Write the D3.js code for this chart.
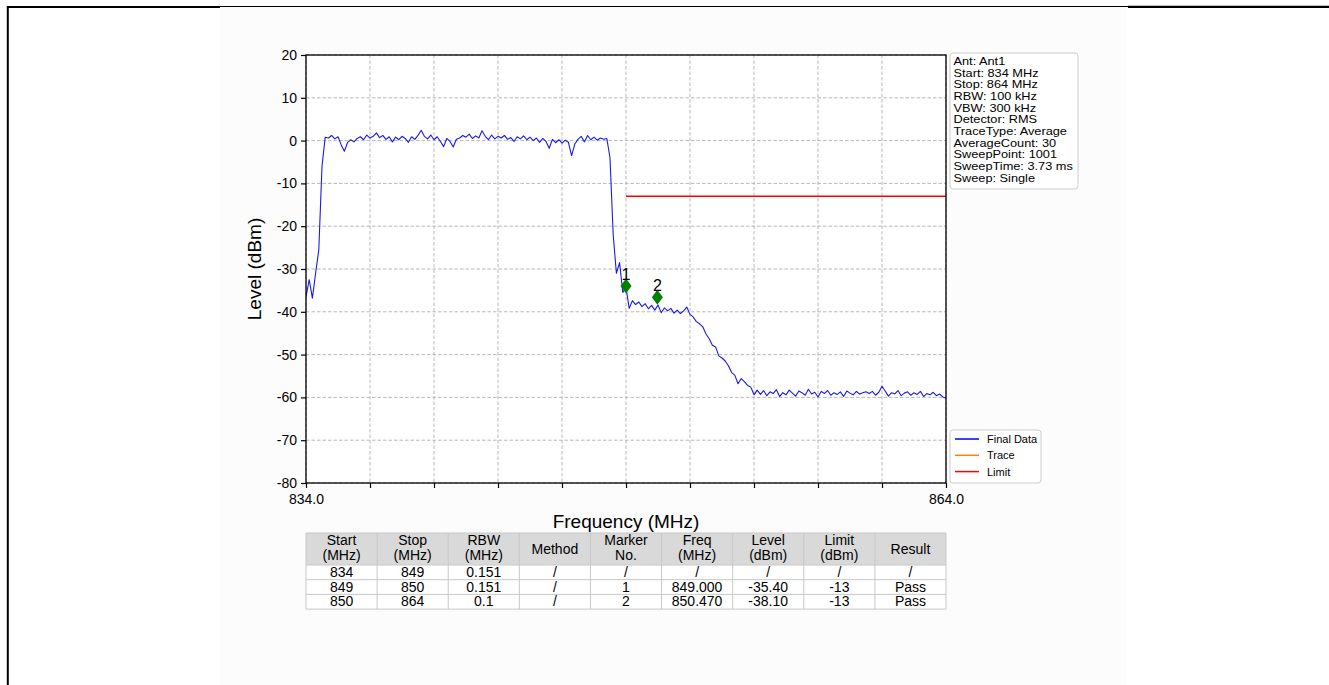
<!DOCTYPE html>
<html><head><meta charset="utf-8">
<script src="https://cdn.jsdelivr.net/npm/d3@7"></script>
<style>
body{margin:0;background:#fff;}
svg{display:block;font-family:"Liberation Sans",Arial,Helvetica,sans-serif;}
</style>
</head><body><svg id="c" width="1329" height="685"></svg>
<script>
// ---------- data ----------
const sweepStart = 834, sweepStop = 864, sweepStep = 0.15;
const traceLevels = [
 -36.5,-32.5,-36.8,-31,-25.5,-6,0.8,
 0.6,1.2,0.4,0.9,-1.0,-2.5,-0.4,0.2,-0.3,0.5,0.9,0.2,1.3,0.6,1.0,1.8,0.7,1.2,0.3,0.9,-0.3,0.8,0.2,1.0,0.5,-0.4,0.9,0.3,1.2,2.4,1.0,0.4,1.3,0.2,0.9,-0.2,-1.4,0.5,-0.2,-1.5,0.3,
 0.6,1.2,0.8,1.5,0.5,1.1,0.6,2.3,1.0,0.2,1.3,0.4,1.0,0.6,1.2,0.3,0.7,-0.2,0.9,0.4,1.1,0.2,0.8,0.0,0.6,-0.4,0.5,-0.2,-1.8,0.3,-0.5,0.2,-0.6,0.1,-0.4,-3.5,-0.8,0.3,1.0,-0.3,1.2,0.2,0.8,0.1,0.6,0.3,0.5,
 -4,-22,-31,-28.5,-35.5,-34.3,-39.2,-37.4,-38.3,-37.7,-38.8,-38.1,-39.3,-38.5,-39.6,-38.4,-40.2,-39.1,-39.8,-39.2,-40.3,-39.6,-40.4,-39.8,-38.9,-40.6,-41.2,-42.3,-42.8,-43.5,-45.2,-46.3,-47.8,-48.2,-50.3,-50.8,-51.5,-52.6,-54.2,-54.8,-56.8,-55.6,-56.3,-57.2,-57.6,-59.4,-58.3,
 -59.3,-58.4,-59.6,-58.7,-59.1,-58.2,-59.8,-58.9,-59.4,-58.3,
 -59.0,-59.7,-58.5,-58.9,-59.5,-58.1,-59.2,-58.8,-59.9,-58.6,
 -59.1,-58.4,-59.5,-58.9,-59.3,-58.7,-59.8,-58.5,-59.0,-59.4,
 -58.6,-59.2,-58.9,-58.7,-59.1,-58.6,-59.5,-58.8,-57.4,-58.5,
 -59.7,-58.9,-59.2,-58.4,-59.6,-59.0,-58.7,-59.5,-58.9,-59.3,
 -58.6,-59.8,-59.1,-59.4,-58.8,-59.6,-59.2,-59.9,-60.2
];
const limitFreq = [849, 864];
const limitLevel = [-13, -13];
const markerNo = ["1", "2"];
const markerFreq = [849.0, 850.47];
const markerLevel = [-34.0, -36.6];
const yTicks = [20, 10, 0, -10, -20, -30, -40, -50, -60, -70, -80];
const yTickLabels = ["20", "10", "0", "-10", "-20", "-30", "-40", "-50", "-60", "-70", "-80"];
const xTicks = [834, 837, 840, 843, 846, 849, 852, 855, 858, 861, 864];
const xTickLabels = ["834.0", "", "", "", "", "", "", "", "", "", "864.0"];
const infoLines = ["Ant: Ant1", "Start: 834 MHz", "Stop: 864 MHz", "RBW: 100 kHz", "VBW: 300 kHz",
  "Detector: RMS", "TraceType: Average", "AverageCount: 30", "SweepPoint: 1001", "SweepTime: 3.73 ms", "Sweep: Single"];
const legendNames = ["Final Data", "Trace", "Limit"];
const legendColors = ["#0000ee", "#ff7f0e", "#ff0000"];
const tableHeader = [["Start", "(MHz)"], ["Stop", "(MHz)"], ["RBW", "(MHz)"], ["Method"], ["Marker", "No."],
  ["Freq", "(MHz)"], ["Level", "(dBm)"], ["Limit", "(dBm)"], ["Result"]];
const tableRows = [
  ["834", "849", "0.151", "/", "/", "/", "/", "/", "/"],
  ["849", "850", "0.151", "/", "1", "849.000", "-35.40", "-13", "Pass"],
  ["850", "864", "0.1", "/", "2", "850.470", "-38.10", "-13", "Pass"]
];

// ---------- drawing ----------
const svg = d3.select("#c");
// page frame
svg.append("rect").attr("x", 220).attr("y", 7).attr("width", 907).attr("height", 678).attr("fill", "#fcfcfc");
svg.append("line").attr("x1", 7).attr("x2", 220).attr("y1", 7).attr("y2", 7).attr("stroke", "#000").attr("stroke-width", 2);
svg.append("line").attr("x1", 220).attr("x2", 1128).attr("y1", 6.5).attr("y2", 6.5).attr("stroke", "#000").attr("stroke-width", 1);
svg.append("line").attr("x1", 1128).attr("x2", 1329).attr("y1", 6.8).attr("y2", 6.8).attr("stroke", "#000").attr("stroke-width", 2.3);
svg.append("line").attr("x1", 7.8).attr("x2", 7.8).attr("y1", 6).attr("y2", 685).attr("stroke", "#000").attr("stroke-width", 2);

const L = 306, R = 946, T = 55, B = 483;
const x = d3.scaleLinear().domain([sweepStart, sweepStop]).range([L, R]);
const y = d3.scaleLinear().domain([-80, 20]).range([B, T]);

svg.append("rect").attr("x", L).attr("y", T).attr("width", R - L).attr("height", B - T).attr("fill", "#fff");

// grid
const grid = svg.append("g").attr("stroke", "#b0b0b0").attr("stroke-width", 0.9).attr("stroke-dasharray", "3.5,2");
grid.selectAll(".gy").data(yTicks).join("line")
  .attr("x1", L).attr("x2", R).attr("y1", d => y(d)).attr("y2", d => y(d));
grid.selectAll(".gx").data(xTicks).join("line")
  .attr("y1", T).attr("y2", B).attr("x1", d => x(d)).attr("x2", d => x(d));

// trace
const traceData = traceLevels.map((v, i) => [sweepStart + i * sweepStep, v]);
svg.append("clipPath").attr("id", "pc").append("rect").attr("x", L).attr("y", T).attr("width", R - L).attr("height", B - T);
svg.append("path").datum(traceData).attr("clip-path", "url(#pc)")
  .attr("fill", "none").attr("stroke", "#1a1ae6").attr("stroke-width", 1.1).attr("stroke-linejoin", "round")
  .attr("d", d3.line().x(d => x(d[0])).y(d => y(d[1])));

// limit
svg.append("path").datum(limitFreq.map((f, i) => [f, limitLevel[i]]))
  .attr("fill", "none").attr("stroke", "#ff0000").attr("stroke-width", 1.4)
  .attr("d", d3.line().x(d => x(d[0])).y(d => y(d[1])));

// markers
const mk = svg.append("g");
markerNo.forEach((n, i) => {
  const cx = x(markerFreq[i]), cy = y(markerLevel[i]);
  mk.append("path").attr("d", `M${cx},${cy - 7.5}L${cx + 5.5},${cy}L${cx},${cy + 7.5}L${cx - 5.5},${cy}Z`).attr("fill", "#008000");
  mk.append("text").attr("x", cx).attr("y", cy - 6).attr("text-anchor", "middle").attr("font-size", 16).attr("fill", "#000").text(n);
});

// axes
const ax = svg.append("g").attr("transform", `translate(${L},0)`)
  .call(d3.axisLeft(y).tickValues(yTicks).tickSize(5).tickPadding(4).tickFormat((d, i) => yTickLabels[i]));
const bx = svg.append("g").attr("transform", `translate(0,${B})`)
  .call(d3.axisBottom(x).tickValues(xTicks).tickSize(5).tickPadding(6).tickFormat((d, i) => xTickLabels[i]));
[ax, bx].forEach(g => {
  g.select(".domain").remove();
  g.selectAll(".tick line").attr("stroke", "#000").attr("stroke-width", 1.2);
  g.selectAll(".tick text").attr("font-size", 14).attr("font-family", "Liberation Sans, Arial, sans-serif").attr("fill", "#000");
});
svg.append("rect").attr("x", L).attr("y", T).attr("width", R - L).attr("height", B - T)
  .attr("fill", "none").attr("stroke", "#000").attr("stroke-width", 1.3);

svg.append("text").attr("transform", `translate(261,${(T + B) / 2}) rotate(-90)`).attr("text-anchor", "middle")
  .attr("font-size", 19).text("Level (dBm)");
svg.append("text").attr("x", (L + R) / 2).attr("y", 528).attr("text-anchor", "middle").attr("font-size", 19).text("Frequency (MHz)");

// info box
svg.append("rect").attr("x", 950).attr("y", 53).attr("width", 128).attr("height", 136).attr("rx", 3)
  .attr("fill", "#fff").attr("stroke", "#cccccc").attr("stroke-width", 1);
svg.append("g").attr("transform", "translate(953.5,0) scale(1.1,1)")
  .selectAll("text").data(infoLines).join("text")
  .attr("x", 0).attr("y", (d, i) => 65 + i * 11.67).attr("font-size", 11.6).attr("fill", "#000").text(d => d);

// legend
svg.append("rect").attr("x", 950).attr("y", 430).attr("width", 91).attr("height", 53).attr("rx", 3)
  .attr("fill", "#fff").attr("stroke", "#cccccc").attr("stroke-width", 1);
const lg = svg.append("g").selectAll("g").data(legendNames).join("g")
  .attr("transform", (d, i) => `translate(0,${439 + i * 16.3})`);
lg.append("line").attr("x1", 955).attr("x2", 979).attr("stroke", (d, i) => legendColors[i]).attr("stroke-width", 1.5);
lg.append("text").attr("x", 987).attr("y", 4).attr("font-size", 11).text(d => d);

// table
const colW = (R - L) / tableHeader.length;
const tb = svg.append("g");
const hTop = 533, hH = 32, rH = 14.7;
tb.append("rect").attr("x", L).attr("y", hTop).attr("width", R - L).attr("height", hH).attr("fill", "#d9d9d9");
tb.append("rect").attr("x", L).attr("y", hTop + hH).attr("width", R - L).attr("height", rH * tableRows.length).attr("fill", "#fff");
tableHeader.forEach((h, c) => {
  const cx = L + colW * c + colW / 2;
  h.forEach((t, k) => {
    const yy = h.length === 1 ? hTop + hH / 2 + 4.5 : hTop + 12 + k * 14.5;
    tb.append("text").attr("x", cx).attr("y", yy).attr("text-anchor", "middle").attr("font-size", 14).text(t);
  });
});
tableRows.forEach((row, r) => {
  row.forEach((t, c) => {
    tb.append("text").attr("x", L + colW * c + colW / 2).attr("y", hTop + hH + rH * r + 11.8)
      .attr("text-anchor", "middle").attr("font-size", 14).text(t);
  });
});
const tg = tb.append("g").attr("stroke", "#c8c8c8").attr("stroke-width", 1);
d3.range(tableRows.length + 2).forEach(k => {
  const yy = k === 0 ? hTop : hTop + hH + rH * (k - 1);
  tg.append("line").attr("x1", L).attr("x2", R).attr("y1", yy).attr("y2", yy);
});
d3.range(tableHeader.length + 1).forEach(c => {
  tg.append("line").attr("x1", L + colW * c).attr("x2", L + colW * c).attr("y1", hTop).attr("y2", hTop + hH + rH * tableRows.length);
});
</script>
</body></html>
